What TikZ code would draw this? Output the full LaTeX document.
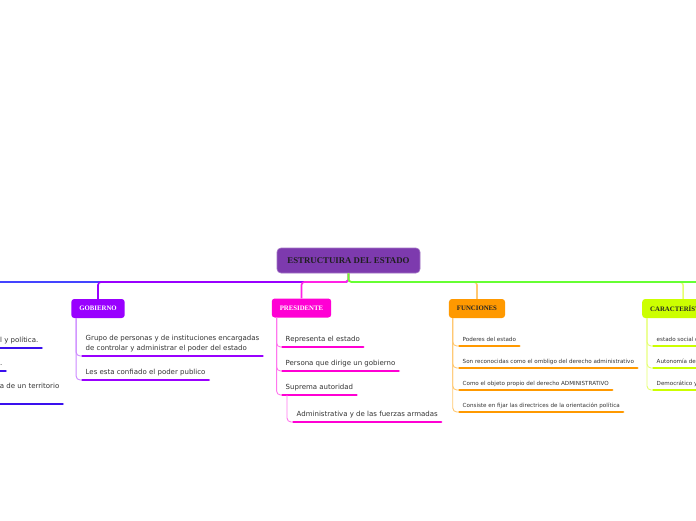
\documentclass[tikz,border=0pt]{standalone}
\usepackage{fontspec}
\setmainfont{Liberation Serif}
\newfontfamily\itemfont{DejaVu Sans}
\definecolor{rootc}{HTML}{7D3AAE}
\definecolor{gobc}{HTML}{9900FF}
\definecolor{gobl}{HTML}{CC88FF}
\definecolor{presc}{HTML}{FF00D4}
\definecolor{presl}{HTML}{FF77EE}
\definecolor{presconn}{HTML}{FF22E6}
\definecolor{funcc}{HTML}{FF9900}
\definecolor{funcl}{HTML}{FFC870}
\definecolor{carc}{HTML}{CCFF00}
\definecolor{carl}{HTML}{E6FF70}
\definecolor{greenl}{HTML}{66FF33}
\definecolor{bluel}{HTML}{4444FF}
\definecolor{bluec}{HTML}{3A10EE}
\begin{document}
\begin{tikzpicture}[x=1pt,y=-1pt,
  rootbox/.style={fill=rootc, draw=rootc!70!white, line width=0.6pt, rounded corners=4pt, minimum width=143pt, minimum height=25pt, inner sep=0pt, text=black!88, font=\fontsize{8.8}{10}\selectfont\bfseries},
  topic/.style={fill=#1, rounded corners=3pt, inner xsep=8pt, inner ysep=0pt, minimum height=19pt, font=\fontsize{6.8}{8}\selectfont\bfseries},
  conn/.style={line width=1.6pt, draw=#1, rounded corners=3pt},
  branch/.style={line width=0.9pt, draw=#1, rounded corners=4pt},
  ulline/.style={line width=2.8pt, draw=#1, line cap=round, shorten <=1.4pt, shorten >=1.4pt},
  item/.style={font=\itemfont\fontsize{7}{10}\selectfont, text=black!80, inner xsep=4.5pt, inner ysep=0pt, text height=5.3pt, text depth=5.6pt, align=left,
    append after command={(\tikzlastnode.south west) edge[ulline=#1] (\tikzlastnode.south east)}},
  sitem/.style={font=\itemfont\fontsize{5.6}{7}\selectfont, text=black!80, inner xsep=4.5pt, inner ysep=0pt, text height=4.2pt, text depth=4.8pt, align=left,
    append after command={(\tikzlastnode.south west) edge[ulline=#1] (\tikzlastnode.south east)}}
]
\useasboundingbox (0,0) rectangle (696,520);
\fill[white] (0,0) rectangle (696,520);
\begin{scope}
\clip (0,0) rectangle (696,520);

% root and topics
\node[rootbox] (root) at (348.5,260.5) {ESTRUCTUIRA DEL ESTADO};
\node[topic=gobc, text=white] (gob) at (98,308.5) {GOBIERNO};
\node[topic=presc, text=white] (pres) at (301.5,308) {PRESIDENTE};
\node[topic=funcc, text=black!85] (func) at (477,308.5) {FUNCIONES};
\node[topic=carc, text=black!85, anchor=west] (car) at (642,308.5) {CARACTERÍSTICAS};

% root connectors
\coordinate (hub) at (348.5,282);
\coordinate (leftend) at (-20,282);
\coordinate (rightend) at (720,282);
\draw[conn=bluel] (root.south) -- (hub) -- (leftend);
\draw[conn=gobc] (root.south) -- (hub) -| (gob.north);
\draw[conn=presconn] (root.south) -- (hub) -| (pres.north);
\draw[conn=funcl] (root.south) -- (hub) -| (func.north);
\draw[conn=carl] (root.south) -- (hub) -| (car.north);
\draw[conn=greenl] (root.south) -- (hub) -- (rightend);

% left (cut) branch items
\node[item=bluec, anchor=south east] (l1) at (43,348) {l y política.};
\node[item=bluec, anchor=south east] (l2) at (7,371) {.};
\node[item=bluec, anchor=south east] (l3) at (64,404) {a de un territorio\\\mbox{}};

% GOBIERNO
\node[item=gobc, anchor=south west] (g1) at (81,356) {Grupo de personas y de instituciones encargadas\\de controlar y administrar el poder del estado};
\node[item=gobc, anchor=south west] (g2) at (81,380) {Les esta confiado el poder publico};
\draw[branch=gobl] ([xshift=5pt]gob.south west) |- (g1.south west);
\draw[branch=gobl] ([xshift=5pt]gob.south west) |- (g2.south west);

% PRESIDENTE
\node[item=presc, anchor=south west] (p1) at (281,347) {Representa el estado};
\node[item=presc, anchor=south west] (p2) at (281,371) {Persona que dirige un gobierno};
\node[item=presc, anchor=south west] (p3) at (281,395) {Suprema autoridad};
\node[item=presc, anchor=south west] (p4) at (292,422) {Administrativa y de las fuerzas armadas};
\draw[branch=presl] ([xshift=5pt]pres.south west) |- (p1.south west);
\draw[branch=presl] ([xshift=5pt]pres.south west) |- (p2.south west);
\draw[branch=presl] ([xshift=5pt]pres.south west) |- (p3.south west);
\draw[branch=presl] ([xshift=6pt]p3.south west) |- (p4.south west);

% FUNCIONES
\node[sitem=funcc, anchor=south west] (f1) at (458,346) {Poderes del estado};
\node[sitem=funcc, anchor=south west] (f2) at (458,368) {Son reconocidas como el ombligo del derecho administrativo};
\node[sitem=funcc, anchor=south west] (f3) at (458,390) {Como el objeto propio del derecho ADMINISTRATIVO};
\node[sitem=funcc, anchor=south west] (f4) at (458,412) {Consiste en fijar las directrices de la orientación política};
\draw[branch=funcl] ([xshift=4pt]func.south west) |- (f1.south west);
\draw[branch=funcl] ([xshift=4pt]func.south west) |- (f2.south west);
\draw[branch=funcl] ([xshift=4pt]func.south west) |- (f3.south west);
\draw[branch=funcl] ([xshift=4pt]func.south west) |- (f4.south west);

% CARACTERISTICAS
\node[sitem=carc, anchor=south west] (c1) at (652,346) {estado social d};
\node[sitem=carc, anchor=south west] (c2) at (652,368) {Autonomía de};
\node[sitem=carc, anchor=south west] (c3) at (652,390) {Democrático y};
\draw[branch=carl] ([xshift=5pt]car.south west) |- (c1.south west);
\draw[branch=carl] ([xshift=5pt]car.south west) |- (c2.south west);
\draw[branch=carl] ([xshift=5pt]car.south west) |- (c3.south west);
\end{scope}
\end{tikzpicture}
\end{document}
